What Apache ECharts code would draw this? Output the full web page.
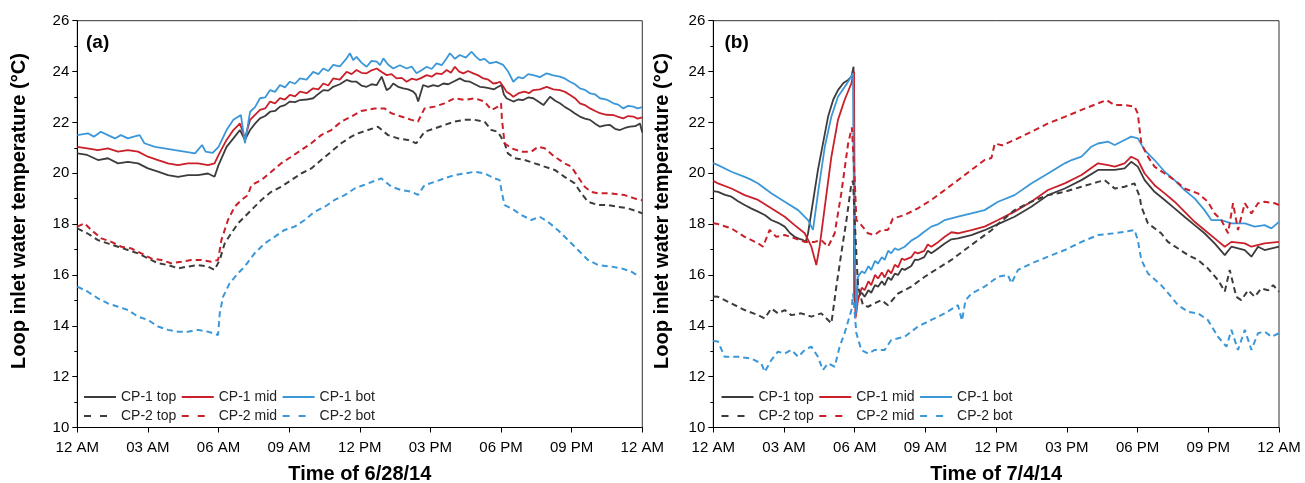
<!DOCTYPE html>
<html>
<head>
<meta charset="utf-8">
<script src="https://cdn.jsdelivr.net/npm/echarts@6/dist/echarts.min.js"></script>
<style>html,body{margin:0;padding:0;background:#fff}#c{width:1305px;height:483px}</style>
</head>
<body>
<div id="c"></div>
<script>
const xTickLabels = ['12 AM','03 AM','06 AM','09 AM','12 PM','03 PM','06 PM','09 PM','12 AM'];
const seriesNames = ['CP-1 top','CP-1 mid','CP-1 bot','CP-2 top','CP-2 mid','CP-2 bot'];
const xTitles = ['Time of 6/28/14','Time of 7/4/14'];
const panelLabels = ['(a)','(b)'];
const yTitle = 'Loop inlet water temperature (°C)';

// Panel (a) 6/28/14  [hour, °C]
const aTop1 = [[0,20.78],[0.42,20.72],[0.88,20.52],[1.3,20.59],[1.73,20.39],[2.15,20.45],[2.58,20.39],[3.0,20.19],[3.43,20.06],[3.85,19.93],[4.28,19.86],[4.7,19.93],[5.13,19.93],[5.55,19.99],[5.83,19.86],[5.99,20.3],[6.34,21.04],[6.63,21.37],[6.91,21.7],[7.12,21.31],[7.34,21.7],[7.55,21.95],[7.76,22.16],[7.98,22.25],[8.19,22.42],[8.4,22.45],[8.61,22.62],[8.82,22.68],[9.03,22.82],[9.25,22.8],[9.46,22.88],[9.74,22.9],[10.02,22.95],[10.24,23.12],[10.45,23.27],[10.66,23.25],[10.87,23.4],[11.15,23.5],[11.44,23.67],[11.65,23.6],[11.86,23.6],[12.07,23.45],[12.29,23.4],[12.5,23.5],[12.72,23.47],[12.93,23.8],[13.14,23.27],[13.28,23.35],[13.42,23.53],[13.63,23.4],[13.85,23.34],[14.06,23.3],[14.27,23.21],[14.38,23.1],[14.48,22.82],[14.69,23.47],[14.9,23.4],[15.12,23.47],[15.33,23.42],[15.55,23.53],[15.76,23.5],[15.97,23.6],[16.25,23.73],[16.47,23.62],[16.68,23.6],[16.89,23.5],[17.1,23.4],[17.31,23.38],[17.52,23.34],[17.7,23.3],[17.88,23.4],[18.02,23.47],[18.12,23.1],[18.23,22.95],[18.52,22.82],[18.73,22.9],[18.94,22.88],[19.15,22.98],[19.37,22.95],[19.58,22.82],[19.8,22.68],[20.08,23.01],[20.3,22.85],[20.5,22.75],[20.72,22.6],[20.93,22.49],[21.14,22.35],[21.35,22.23],[21.56,22.15],[21.78,22.1],[22.0,21.95],[22.2,21.83],[22.42,21.88],[22.63,21.9],[22.84,21.75],[23.05,21.7],[23.26,21.78],[23.48,21.83],[23.7,21.85],[23.9,21.96],[24,21.6]];
const aMid1 = [[0,21.04],[0.42,20.98],[0.88,20.91],[1.3,20.98],[1.73,20.85],[2.15,20.91],[2.58,20.85],[3.0,20.65],[3.43,20.52],[3.85,20.39],[4.28,20.32],[4.7,20.39],[5.13,20.39],[5.55,20.32],[5.83,20.39],[5.99,20.7],[6.34,21.31],[6.63,21.7],[6.91,21.96],[7.12,21.37],[7.34,22.1],[7.55,22.3],[7.76,22.49],[7.98,22.55],[8.19,22.82],[8.4,22.75],[8.61,22.95],[8.82,22.9],[9.03,23.08],[9.25,23.02],[9.46,23.21],[9.74,23.15],[10.02,23.34],[10.24,23.3],[10.45,23.53],[10.66,23.45],[10.87,23.73],[11.15,23.68],[11.44,23.99],[11.65,23.9],[11.86,24.06],[12.07,23.95],[12.29,23.93],[12.5,24.05],[12.72,24.12],[12.93,23.98],[13.14,23.86],[13.35,23.9],[13.56,23.73],[13.78,23.75],[13.99,23.6],[14.2,23.72],[14.41,23.67],[14.62,23.75],[14.84,23.86],[15.05,23.8],[15.26,23.93],[15.48,23.9],[15.69,24.06],[15.87,23.95],[16.04,24.19],[16.22,24.0],[16.4,23.93],[16.6,24.02],[16.82,23.93],[17.03,23.85],[17.25,23.73],[17.46,23.68],[17.67,23.53],[17.82,23.55],[17.95,23.6],[18.1,23.4],[18.23,23.21],[18.38,23.12],[18.52,23.01],[18.75,23.15],[19.0,23.21],[19.18,23.15],[19.37,23.27],[19.65,23.3],[19.94,23.4],[20.22,23.3],[20.5,23.27],[20.72,23.2],[20.93,23.08],[21.14,22.95],[21.35,22.75],[21.56,22.68],[21.78,22.55],[22.0,22.45],[22.2,22.36],[22.48,22.3],[22.77,22.29],[22.98,22.22],[23.19,22.16],[23.4,22.25],[23.62,22.23],[23.8,22.15],[24,22.2]];
const aBot1 = [[0,21.5],[0.45,21.57],[0.7,21.44],[1.0,21.63],[1.3,21.5],[1.6,21.37],[1.85,21.5],[2.15,21.37],[2.4,21.44],[2.65,21.5],[2.85,21.18],[3.3,21.04],[3.7,20.98],[4.15,20.91],[4.55,20.85],[5.0,20.78],[5.3,21.11],[5.45,20.85],[5.75,20.8],[6.0,21.04],[6.34,21.7],[6.63,22.1],[6.95,22.29],[7.12,21.18],[7.34,22.42],[7.55,22.6],[7.76,22.95],[7.98,22.98],[8.19,23.27],[8.4,23.2],[8.61,23.47],[8.82,23.38],[9.03,23.6],[9.25,23.52],[9.46,23.73],[9.74,23.68],[10.02,23.99],[10.24,23.9],[10.45,24.12],[10.66,24.02],[10.87,24.26],[11.15,24.2],[11.44,24.52],[11.58,24.72],[11.72,24.45],[11.86,24.58],[12.07,24.35],[12.29,24.19],[12.5,24.42],[12.72,24.39],[12.86,24.25],[13.0,24.52],[13.2,24.28],[13.42,24.12],[13.7,24.25],[13.99,24.12],[14.2,24.2],[14.41,23.93],[14.62,24.05],[14.84,24.19],[15.05,24.1],[15.26,24.32],[15.48,24.25],[15.69,24.52],[15.83,24.72],[16.04,24.5],[16.25,24.65],[16.5,24.55],[16.75,24.78],[16.92,24.6],[17.1,24.45],[17.3,24.5],[17.52,24.32],[17.8,24.38],[18.09,24.26],[18.3,24.0],[18.52,23.6],[18.73,23.78],[18.94,23.73],[19.15,23.9],[19.37,23.86],[19.65,23.78],[19.94,23.93],[20.22,23.85],[20.5,23.8],[20.72,23.72],[20.93,23.6],[21.14,23.5],[21.35,23.34],[21.56,23.28],[21.78,23.14],[22.0,23.1],[22.2,22.95],[22.48,22.9],[22.77,22.75],[22.98,22.7],[23.19,22.55],[23.4,22.65],[23.62,22.62],[23.8,22.55],[24,22.6]];
const aTop2 = [[0,17.83],[0.42,17.64],[0.88,17.37],[1.3,17.24],[1.73,17.11],[2.15,16.98],[2.58,16.85],[3.0,16.65],[3.43,16.46],[3.85,16.39],[4.28,16.26],[4.7,16.33],[5.13,16.39],[5.55,16.33],[5.83,16.2],[6.05,16.59],[6.26,17.24],[6.54,17.64],[6.83,18.03],[7.11,18.29],[7.39,18.55],[7.82,18.95],[8.24,19.27],[8.66,19.47],[9.09,19.73],[9.51,19.99],[9.94,20.19],[10.36,20.52],[10.79,20.85],[11.21,21.18],[11.64,21.44],[11.92,21.57],[12.35,21.7],[12.77,21.83],[13.2,21.5],[13.62,21.37],[14.05,21.31],[14.4,21.18],[14.75,21.63],[15.18,21.76],[15.6,21.9],[16.03,22.03],[16.45,22.1],[16.88,22.1],[17.3,22.03],[17.59,21.7],[17.87,21.63],[18.15,21.18],[18.29,20.78],[18.58,20.59],[19.0,20.52],[19.43,20.39],[19.85,20.26],[20.28,20.13],[20.7,19.86],[21.13,19.6],[21.41,19.21],[21.69,18.88],[22.12,18.75],[22.54,18.75],[22.97,18.68],[23.39,18.62],[23.81,18.49],[24,18.42]];
const aMid2 = [[0,17.9],[0.31,18.03],[0.59,17.77],[1.02,17.44],[1.45,17.3],[1.87,17.11],[2.3,17.04],[2.72,16.85],[3.14,16.65],[3.57,16.59],[3.99,16.46],[4.42,16.52],[4.84,16.59],[5.27,16.59],[5.69,16.52],[5.98,16.59],[6.12,17.37],[6.4,18.16],[6.68,18.68],[6.97,18.95],[7.25,19.14],[7.39,19.53],[7.82,19.73],[8.24,20.06],[8.66,20.39],[9.09,20.65],[9.51,20.91],[9.94,21.18],[10.36,21.5],[10.79,21.7],[11.21,22.03],[11.64,22.23],[12.06,22.45],[12.63,22.55],[13.05,22.55],[13.34,22.36],[13.76,22.23],[14.19,22.1],[14.47,22.03],[14.75,22.55],[15.18,22.62],[15.6,22.75],[16.03,22.95],[16.45,22.88],[16.88,22.95],[17.3,22.82],[17.59,22.49],[17.87,22.62],[18.0,22.75],[18.04,22.1],[18.15,21.18],[18.44,20.98],[18.86,20.85],[19.29,20.85],[19.57,21.04],[19.85,20.98],[20.28,20.65],[20.7,20.39],[20.98,20.26],[21.27,19.86],[21.55,19.47],[21.83,19.27],[22.12,19.21],[22.68,19.21],[23.25,19.14],[23.67,19.01],[24,18.94]];
const aBot2 = [[0,15.54],[0.45,15.34],[0.88,15.08],[1.3,14.88],[1.73,14.75],[2.15,14.62],[2.58,14.36],[3.0,14.23],[3.43,13.97],[3.85,13.84],[4.28,13.77],[4.7,13.77],[5.13,13.84],[5.55,13.77],[5.98,13.64],[6.05,14.49],[6.19,15.14],[6.47,15.67],[6.83,16.07],[7.11,16.33],[7.53,16.85],[7.96,17.24],[8.38,17.5],[8.81,17.77],[9.23,17.9],[9.66,18.16],[10.08,18.49],[10.51,18.68],[10.93,18.95],[11.36,19.14],[11.78,19.4],[12.06,19.5],[12.35,19.6],[12.91,19.8],[13.34,19.47],[13.76,19.34],[14.19,19.27],[14.47,19.15],[14.75,19.53],[15.18,19.66],[15.6,19.8],[16.03,19.93],[16.45,19.99],[16.88,20.06],[17.3,19.99],[17.73,19.8],[17.94,19.73],[18.04,19.21],[18.15,18.75],[18.44,18.62],[18.86,18.36],[19.29,18.16],[19.64,18.29],[19.99,18.09],[20.42,17.76],[20.85,17.37],[21.27,16.98],[21.69,16.59],[22.12,16.39],[22.68,16.33],[23.11,16.26],[23.53,16.13],[23.9,15.93]];

// Panel (b) 7/4/14  [hour, °C]
const bTop1 = [[0,19.3],[0.2,19.27],[0.5,19.15],[0.77,19.08],[1.05,18.9],[1.33,18.75],[1.6,18.62],[1.9,18.49],[2.2,18.35],[2.46,18.16],[2.75,18.05],[3.03,17.9],[3.25,17.65],[3.45,17.5],[3.65,17.42],[3.8,17.38],[3.92,17.3],[4.02,17.64],[4.44,20.13],[4.87,22.23],[5.09,22.9],[5.29,23.27],[5.52,23.55],[5.72,23.67],[5.86,23.8],[5.95,24.19],[5.98,15.15],[6.03,14.75],[6.14,15.14],[6.3,15.3],[6.42,15.14],[6.58,15.4],[6.7,15.3],[6.86,15.6],[6.99,15.54],[7.15,15.75],[7.27,15.6],[7.42,15.9],[7.55,15.8],[7.7,16.05],[7.84,16.0],[8.0,16.25],[8.12,16.2],[8.4,16.35],[8.55,16.6],[8.68,16.59],[8.95,16.7],[9.1,16.95],[9.25,16.85],[9.55,17.05],[9.82,17.24],[10.1,17.4],[10.38,17.44],[10.95,17.57],[11.51,17.76],[12.08,18.0],[12.78,18.29],[13.49,18.68],[14.2,19.14],[14.91,19.4],[15.62,19.73],[16.32,20.13],[17.03,20.13],[17.45,20.19],[17.73,20.45],[18.01,20.26],[18.3,19.73],[18.72,19.27],[19.15,18.95],[19.57,18.62],[19.99,18.29],[20.42,17.96],[20.84,17.64],[21.27,17.24],[21.7,16.78],[21.98,17.11],[22.55,16.98],[22.83,16.72],[23.11,17.11],[23.39,16.98],[24,17.11]];
const bMid1 = [[0,19.7],[0.2,19.6],[0.77,19.4],[1.33,19.14],[1.9,18.95],[2.46,18.62],[3.03,18.29],[3.45,17.96],[3.88,17.64],[4.16,17.11],[4.37,16.39],[4.51,17.11],[4.73,18.68],[5.01,20.65],[5.29,22.1],[5.57,22.88],[5.86,23.54],[5.97,24.0],[6.0,18.0],[6.03,14.29],[6.14,15.01],[6.3,15.5],[6.42,15.4],[6.58,15.75],[6.7,15.6],[6.86,16.0],[6.99,15.86],[7.15,16.1],[7.27,15.9],[7.42,16.2],[7.55,16.06],[7.7,16.4],[7.84,16.3],[8.0,16.65],[8.12,16.59],[8.4,16.7],[8.55,16.9],[8.68,16.85],[8.95,16.95],[9.1,17.2],[9.25,17.11],[9.55,17.3],[9.82,17.5],[10.1,17.68],[10.38,17.64],[10.95,17.76],[11.51,17.9],[12.08,18.16],[12.78,18.49],[13.49,18.88],[14.2,19.34],[14.91,19.6],[15.62,19.93],[16.32,20.39],[16.75,20.32],[17.03,20.26],[17.45,20.39],[17.73,20.65],[18.01,20.52],[18.3,19.99],[18.72,19.53],[19.15,19.21],[19.57,18.88],[19.99,18.49],[20.42,18.09],[20.84,17.77],[21.27,17.44],[21.7,17.11],[21.98,17.3],[22.55,17.24],[22.83,17.11],[23.39,17.24],[24,17.3]];
const bBot1 = [[0,20.4],[0.2,20.32],[0.77,20.06],[1.33,19.86],[1.6,19.75],[1.9,19.6],[2.46,19.21],[3.03,18.88],[3.6,18.55],[4.02,18.16],[4.23,17.77],[4.44,19.21],[4.73,21.04],[5.01,22.23],[5.29,23.01],[5.72,23.6],[5.93,23.93],[5.97,18.0],[6.07,14.49],[6.14,15.93],[6.3,16.15],[6.42,16.06],[6.58,16.35],[6.7,16.2],[6.86,16.55],[6.99,16.45],[7.15,16.7],[7.27,16.59],[7.42,16.95],[7.55,16.85],[7.7,17.05],[7.84,16.98],[8.12,17.11],[8.4,17.35],[8.68,17.5],[8.95,17.7],[9.25,17.9],[9.55,18.0],[9.82,18.16],[10.38,18.29],[10.95,18.42],[11.51,18.55],[12.08,18.88],[12.78,19.14],[13.49,19.6],[14.2,19.99],[14.91,20.39],[15.2,20.52],[15.62,20.65],[16.03,21.04],[16.32,21.17],[16.75,21.24],[17.03,21.11],[17.45,21.31],[17.73,21.44],[18.01,21.37],[18.3,20.91],[18.72,20.52],[19.15,20.06],[19.57,19.73],[19.99,19.34],[20.42,19.01],[20.84,18.55],[21.13,18.16],[21.55,18.16],[21.98,18.03],[22.55,18.03],[22.97,17.9],[23.39,17.96],[23.68,17.83],[24,18.09]];
const bTop2 = [[0,15.15],[0.2,15.14],[0.77,14.88],[1.33,14.62],[1.9,14.42],[2.18,14.29],[2.46,14.68],[2.75,14.49],[3.03,14.62],[3.31,14.42],[3.73,14.49],[4.16,14.36],[4.58,14.49],[5.01,14.1],[5.22,15.54],[5.43,16.85],[5.65,18.16],[5.86,19.6],[5.93,19.7],[6.0,18.16],[6.14,15.54],[6.35,14.81],[6.56,14.75],[6.84,14.88],[7.13,15.01],[7.41,14.81],[7.84,15.27],[8.4,15.54],[8.97,15.93],[9.53,16.26],[10.1,16.59],[10.66,16.98],[11.23,17.37],[11.8,17.76],[12.08,18.0],[12.78,18.55],[13.49,18.88],[14.2,19.14],[14.91,19.27],[15.62,19.47],[16.32,19.66],[16.6,19.73],[17.03,19.4],[17.45,19.47],[17.87,19.6],[18.09,19.08],[18.16,18.68],[18.44,18.03],[19.0,17.64],[19.29,17.3],[19.72,17.04],[20.14,16.78],[20.56,16.59],[20.98,16.26],[21.41,15.8],[21.7,15.35],[21.91,16.2],[22.19,15.14],[22.4,15.01],[22.69,15.4],[22.97,15.14],[23.25,15.47],[23.54,15.4],[23.75,15.6],[24,15.34]];
const bMid2 = [[0,18.03],[0.2,18.0],[0.77,17.83],[1.33,17.5],[1.9,17.24],[2.11,17.11],[2.39,17.77],[2.67,17.5],[3.03,17.57],[3.45,17.44],[3.88,17.3],[4.3,17.3],[4.58,17.37],[4.87,17.11],[5.15,17.64],[5.43,19.21],[5.72,21.17],[5.88,21.8],[6.0,19.73],[6.07,18.16],[6.28,17.96],[6.56,17.64],[6.84,17.57],[7.13,17.77],[7.41,17.77],[7.62,18.22],[8.12,18.36],[8.68,18.62],[9.25,18.95],[9.82,19.34],[10.38,19.73],[10.95,20.13],[11.51,20.52],[11.8,20.6],[11.94,21.17],[12.25,21.1],[12.78,21.31],[13.49,21.63],[14.2,21.96],[14.91,22.22],[15.62,22.49],[16.32,22.75],[16.68,22.88],[17.03,22.68],[17.45,22.68],[17.87,22.62],[18.01,22.35],[18.09,21.7],[18.16,21.17],[18.44,20.65],[18.72,20.26],[19.15,19.99],[19.57,19.73],[19.99,19.4],[20.56,19.21],[20.98,18.88],[21.27,18.42],[21.55,18.16],[21.84,17.64],[22.05,18.82],[22.26,17.77],[22.55,18.82],[22.83,18.42],[23.11,18.82],[23.39,18.88],[23.82,18.82],[24,18.75]];
const bBot2 = [[0,13.4],[0.2,13.38],[0.48,12.78],[1.05,12.78],[1.61,12.71],[2.04,12.52],[2.18,12.19],[2.46,12.65],[2.74,12.98],[3.03,12.91],[3.31,13.05],[3.6,12.78],[3.88,13.05],[4.16,13.18],[4.44,12.78],[4.65,12.26],[4.87,12.52],[5.15,12.39],[5.36,13.18],[5.57,13.71],[5.86,14.62],[5.93,15.27],[6.07,13.71],[6.28,13.05],[6.56,12.91],[6.85,13.05],[7.27,13.05],[7.55,13.44],[8.12,13.57],[8.68,13.97],[9.25,14.23],[9.82,14.49],[10.38,14.81],[10.55,14.2],[10.7,15.0],[10.95,15.27],[11.51,15.54],[12.08,15.93],[12.5,16.0],[12.65,15.67],[12.93,16.2],[13.49,16.45],[14.2,16.72],[14.91,16.98],[15.62,17.3],[16.32,17.57],[17.03,17.64],[17.45,17.7],[17.87,17.77],[18.01,17.37],[18.16,16.59],[18.44,16.06],[19.0,15.6],[19.43,15.14],[19.72,14.81],[20.14,14.55],[20.56,14.49],[20.98,14.23],[21.41,13.57],[21.77,13.18],[21.98,13.84],[22.26,13.05],[22.55,13.84],[22.83,13.05],[23.11,13.71],[23.39,13.77],[23.68,13.57],[24,13.71]];

const panelData = [[aTop1,aMid1,aBot1,aTop2,aMid2,aBot2],[bTop1,bMid1,bBot1,bTop2,bMid2,bBot2]];
const colors = ['#3c3c3c','#c9202a','#3b97d8'];
const FONT = 'Arial, "Liberation Sans", Helvetica, sans-serif';

const grids = [
  {left:77.3, top:20.7, width:565, height:406.8},
  {left:713.3, top:20.7, width:565.7, height:406.8}
];
const yNameGap = [48, 41];

const chart = echarts.init(document.getElementById('c'), null, {renderer:'canvas'});
const option = {
  animation:false,
  backgroundColor:'#fff',
  textStyle:{fontFamily:FONT},
  grid: grids.map(g => Object.assign({show:true, borderColor:'#333', borderWidth:1, backgroundColor:'transparent', containLabel:false, outerBoundsMode:'none'}, g)),
  xAxis: [0,1].map(i => ({
    gridIndex:i, type:'value', min:0, max:24, interval:3,
    axisLine:{show:true, lineStyle:{color:'#000', width:1}},
    axisTick:{show:true, inside:false, length:5, lineStyle:{color:'#000'}},
    axisLabel:{fontSize:15, color:'#000', margin:13, fontFamily:FONT,
      showMinLabel:true, showMaxLabel:true,
      formatter: v => xTickLabels[Math.round(v/3)]},
    splitLine:{show:false},
    name: xTitles[i], nameLocation:'middle', nameGap:37,
    nameTextStyle:{fontSize:20, fontWeight:'bold', color:'#000', fontFamily:FONT}
  })),
  yAxis: [0,1].map(i => ({
    gridIndex:i, type:'value', min:10, max:26, interval:2,
    axisLine:{show:true, lineStyle:{color:'#000', width:1}},
    axisTick:{show:true, inside:false, length:5, lineStyle:{color:'#000'}},
    minorTick:{show:true, splitNumber:2, length:3, lineStyle:{color:'#000'}},
    axisLabel:{fontSize:15, color:'#000', margin:8, fontFamily:FONT},
    splitLine:{show:false},
    name: yTitle, nameLocation:'middle', nameGap:yNameGap[i], nameRotate:90,
    nameTextStyle:{fontSize:20, fontWeight:'bold', color:'#000', fontFamily:FONT, padding:[0,0,0,26]}
  })),
  legend: [],
  graphic: [0,1].map(i => ({
    type:'text', left: (i===0 ? 86 : 724.5), top: 33,
    style:{text: panelLabels[i], fill:'#000', font:'bold 19px ' + FONT}
  })),
  series: []
};

const legendLeft = [83, 720.5];
for (let p = 0; p < 2; p++) {
  for (let row = 0; row < 2; row++) {
    option.legend.push({
      left: legendLeft[p], top: row === 0 ? 390 : 409, orient:'horizontal',
      itemWidth:32, itemHeight:14, itemGap:4.5, padding:0, selectedMode:false,
      itemStyle:{opacity:0},
      textStyle:{fontSize:14, color:'#222', fontFamily:FONT},
      data: seriesNames.slice(row*3, row*3+3).map(n => row === 0 ? {name:n} : {name:n, lineStyle:{type:[7,9]}})
    });
  }
  for (let s = 0; s < 6; s++) {
    const dashed = s >= 3;
    option.series.push({
      name: seriesNames[s], type:'line', xAxisIndex:p, yAxisIndex:p,
      data: panelData[p][s], showSymbol:false, symbol:'none',
      lineStyle:{color: colors[s%3], width: dashed ? 2 : 1.8, type: dashed ? [6,4] : 'solid'},
      itemStyle:{color: colors[s%3]},
      emphasis:{disabled:true}
    });
  }
}
chart.setOption(option);
</script>
</body>
</html>
